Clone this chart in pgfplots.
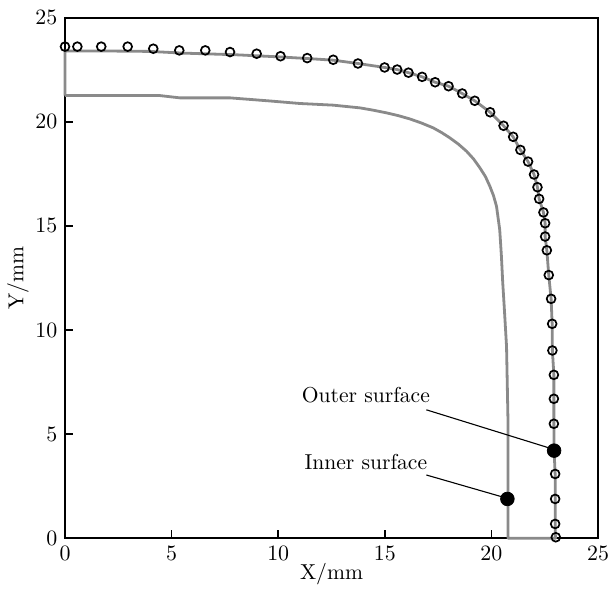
\documentclass[border=0pt]{standalone}
\usepackage{pgfplots}
\pgfplotsset{compat=1.18}
\definecolor{lg}{RGB}{138,138,138}
\begin{document}
\fontsize{10.8}{13}\selectfont
\begin{tikzpicture}
\path[use as bounding box] (-32.5pt,-27.35pt) rectangle (272pt,269.15pt);
\begin{axis}[
  scale only axis, width=266.5pt, height=260.3pt,
  at={(0,0)}, anchor=south west,
  xmin=0, xmax=25, ymin=0, ymax=25,
  xtick={0,5,...,25}, ytick={0,5,...,25},
  tick pos=left, tick align=inside,
  major tick length=4pt,
  axis line style={line width=0.9pt},
  every tick/.style={black, line width=0.8pt},
  xlabel={X/mm}, ylabel={Y/mm},
  xlabel style={yshift=6pt},
  ylabel style={yshift=-4pt},
  tick label style={font=\fontsize{10.8}{13}\selectfont},
  label style={font=\fontsize{10.8}{13}\selectfont},
  clip=false,
]
% contour (left edge, outer, bottom, inner)
\addplot[lg, line width=1.4pt, line join=round] coordinates {
 (0,21.26) (0,23.40) (2,23.40) (4,23.38) (5.5,23.30) (8,23.22) (10,23.12)
 (11.36,23.04) (12.58,22.96) (13.74,22.80) (14.99,22.61) (15.58,22.51)
 (16.11,22.36) (16.75,22.16) (17.36,21.90) (17.99,21.71) (18.63,21.36)
 (19.22,21.01) (19.94,20.46) (20.57,19.81) (21.02,19.28) (21.36,18.65)
 (21.72,18.09) (22.00,17.47) (22.16,16.86) (22.24,16.30) (22.44,15.65)
 (22.52,15.13) (22.52,14.49) (22.60,13.83) (22.69,12.64) (22.80,11.50)
 (22.85,10.30) (22.86,9.02) (22.93,7.85) (22.93,6.70) (22.93,5.50)
 (22.94,4.21) (22.99,3.09) (22.99,1.89) (23.00,0)
 (20.78,0) (20.78,5.53) (20.71,9.21) (20.60,11.14) (20.53,12.30)
 (20.47,13.54) (20.39,14.82) (20.24,15.94) (20.10,16.45) (19.93,16.90)
 (19.72,17.37) (19.46,17.79) (19.16,18.22) (18.83,18.59) (18.45,18.93)
 (18.05,19.23) (17.67,19.48) (17.27,19.71) (16.70,19.95) (16.17,20.14)
 (15.62,20.30) (15.08,20.43) (14.45,20.56) (13.83,20.67) (12.58,20.80)
 (11.02,20.88) (9.50,21.01) (7.74,21.15) (5.39,21.15) (4.45,21.26) (0,21.26)
};
% outer surface measured points
\addplot[only marks, mark=o, mark size=2.2pt, mark options={black, line width=0.85pt, fill=white}] coordinates {
 (0,23.61) (0.58,23.61) (1.70,23.61) (2.94,23.61) (4.14,23.51) (5.36,23.43)
 (6.58,23.43) (7.74,23.35) (8.99,23.27) (10.11,23.15) (11.36,23.06)
 (12.58,22.98) (13.74,22.80) (14.99,22.61) (15.58,22.51) (16.11,22.36)
 (16.75,22.16) (17.36,21.90) (17.99,21.71) (18.63,21.36) (19.22,21.01)
 (19.94,20.46) (20.57,19.81) (21.02,19.28) (21.36,18.65) (21.72,18.09)
 (22.00,17.47) (22.16,16.86) (22.24,16.30) (22.44,15.65) (22.52,15.13)
 (22.52,14.49) (22.60,13.83) (22.69,12.64) (22.80,11.50) (22.85,10.30)
 (22.86,9.02) (22.93,7.85) (22.93,6.70) (22.93,5.50) (22.99,3.09)
 (22.99,1.89) (22.99,0.69) (23.02,0.05)
};
% leader lines
\addplot[black, line width=0.55pt] coordinates {(16.95,6.17) (22.74,4.33)};
\addplot[black, line width=0.55pt] coordinates {(16.95,3.04) (20.47,2.00)};
% filled points
\addplot[only marks, mark=*, mark size=3.4pt, mark options={black}] coordinates {
 (22.94,4.21) (20.75,1.89)
};
\node at (axis cs:14.11,6.89) {Outer surface};
\node at (axis cs:14.11,3.68) {Inner surface};
\end{axis}
\end{tikzpicture}
\end{document}
